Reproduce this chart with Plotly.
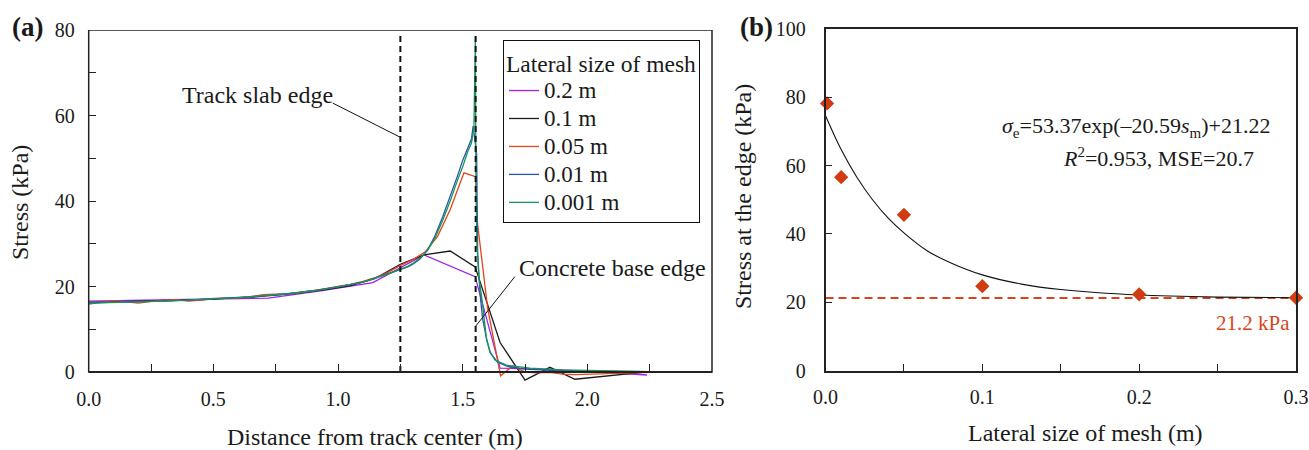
import plotly.graph_objects as go

# ---------------- Panel (a) data ----------------
x_02 = [0.00, 0.10, 0.31, 0.52, 0.72, 0.93, 1.14, 1.345, 1.55, 1.65, 1.85, 2.05, 2.24]
y_02 = [16.6, 16.7, 16.9, 17.2, 17.3, 19.0, 20.9, 27.4, 22.3, 0.9, 0.6, 0.0, -0.7]

x_01 = [0.00, 0.15, 0.25, 0.35, 0.45, 0.55, 0.65, 0.75, 0.85, 0.95, 1.05, 1.15, 1.25, 1.345,
        1.45, 1.55, 1.65, 1.75, 1.85, 1.95, 2.25]
y_01 = [16.3, 16.5, 16.6, 16.8, 16.9, 17.2, 17.5, 18.0, 18.5, 19.3, 20.2, 21.9, 25.2, 27.4,
        28.3, 24.6, 6.9, -1.9, 1.1, -1.7, 0.1]

x_005 = [0.00, 0.05, 0.10, 0.15, 0.20, 0.25, 0.30, 0.35, 0.40, 0.45, 0.50, 0.55, 0.60, 0.65,
         0.70, 0.75, 0.80, 0.85, 0.90, 0.95, 1.00, 1.05, 1.10, 1.15, 1.20, 1.25, 1.30, 1.35,
         1.40, 1.45, 1.505, 1.552, 1.557, 1.60, 1.652, 1.70, 1.75, 1.80, 1.85, 1.90, 1.95, 2.25]
y_005 = [15.9, 16.3, 16.7, 16.4, 16.1, 16.5, 16.8, 16.9, 16.6, 16.8, 17.2, 17.3, 17.3, 17.6,
         18.1, 18.2, 18.3, 18.6, 19.0, 19.5, 20.0, 20.5, 21.2, 22.1, 23.3, 24.9, 26.3, 28.1,
         31.8, 38.0, 46.6, 45.7, 36.0, 15.0, -0.9, 1.4, 0.0, -0.2, -0.1, -0.5, -0.6, -0.1]

x_001 = [0.00, 0.10, 0.20, 0.30, 0.40, 0.50, 0.60, 0.70, 0.80, 0.90, 1.00, 1.10, 1.15, 1.20,
         1.25, 1.28, 1.30, 1.33, 1.36, 1.39, 1.42, 1.45, 1.48, 1.50, 1.52, 1.535, 1.542,
         1.556, 1.560, 1.570, 1.580, 1.595, 1.61, 1.64, 1.68, 1.75, 1.85, 2.00, 2.25]
y_001 = [16.2, 16.3, 16.4, 16.6, 16.8, 17.1, 17.4, 17.8, 18.3, 19.0, 19.9, 21.0, 22.0, 23.0,
         24.0, 24.6, 25.2, 26.5, 28.6, 32.0, 36.3, 41.0, 46.0, 49.5, 52.5, 54.5, 57.5,
         51.0, 28.0, 18.0, 12.5, 8.0, 4.5, 2.3, 1.3, 0.7, 0.4, 0.2, 0.1]

x_0001 = [0.00, 0.10, 0.20, 0.30, 0.40, 0.50, 0.60, 0.70, 0.80, 0.90, 1.00, 1.10, 1.15, 1.20,
          1.25, 1.28, 1.30, 1.33, 1.36, 1.39, 1.42, 1.45, 1.48, 1.50, 1.52, 1.535, 1.545,
          1.551, 1.553, 1.557, 1.565, 1.576, 1.596, 1.61, 1.629, 1.676, 1.77, 1.90, 2.05, 2.25]
y_0001 = [16.1, 16.2, 16.4, 16.6, 16.8, 17.1, 17.4, 17.8, 18.3, 19.0, 19.9, 21.0, 21.9, 22.9,
          24.0, 24.7, 25.4, 26.7, 28.5, 31.5, 35.5, 40.0, 45.0, 48.0, 51.5, 53.5, 57.0,
          78.4, 45.0, 30.0, 22.0, 17.6, 7.5, 4.8, 2.8, 1.6, 0.9, 0.5, 0.3, 0.1]

series_names = ["0.2 m", "0.1 m", "0.05 m", "0.01 m", "0.001 m"]
series_colors = ["#a020f0", "#1a1a1a", "#e2451c", "#2b55a8", "#16975a"]

slab_edge_x = 1.25
base_edge_x = 1.552
edge_line_y = [0.0, 78.8]

# ---------------- Panel (b) data ----------------
mesh_sizes = [0.001, 0.01, 0.05, 0.1, 0.2, 0.3]
edge_stress = [78.2, 56.6, 45.6, 24.7, 22.3, 21.3]
fit_s = [0.0, 0.005, 0.01, 0.02, 0.03, 0.04, 0.05, 0.065, 0.08, 0.1, 0.125, 0.15, 0.2, 0.25, 0.3]
fit_sigma = [74.6, 69.5, 64.7, 56.6, 50.0, 44.6, 40.3, 35.0, 31.5, 28.0, 25.3, 23.7, 22.1, 21.5, 21.3]
limit_stress = 21.2
limit_x = [0.0, 0.3]

FONT = "Liberation Serif"
TXT = "#1a1a1a"
ORANGE = "#d9441c"

W, H = 1309, 450


def px(x):
    return x / W


def py(y):
    return (H - y) / H


fig = go.Figure()

xs = [x_02, x_01, x_005, x_001, x_0001]
ys = [y_02, y_01, y_005, y_001, y_0001]
for name, col, xv, yv in zip(series_names, series_colors, xs, ys):
    fig.add_trace(go.Scatter(
        x=xv, y=yv, mode="lines",
        name='<span style="font-size:23px">%s</span>' % name,
        line=dict(color=col, width=1.3), xaxis="x", yaxis="y"))

for ex in [slab_edge_x, base_edge_x]:
    fig.add_trace(go.Scatter(
        x=[ex, ex], y=edge_line_y, mode="lines", showlegend=False,
        line=dict(color="#111", width=2, dash="6px,4px"), xaxis="x", yaxis="y"))

# Panel (b)
fig.add_trace(go.Scatter(
    x=limit_x, y=[limit_stress, limit_stress], mode="lines", showlegend=False,
    line=dict(color=ORANGE, width=2, dash="8px,5px"), xaxis="x2", yaxis="y2"))
fig.add_trace(go.Scatter(
    x=fit_s, y=fit_sigma, mode="lines", showlegend=False,
    line=dict(color="#111", width=1.1, shape="spline", smoothing=0.6), xaxis="x2", yaxis="y2"))
fig.add_trace(go.Scatter(
    x=mesh_sizes, y=edge_stress, mode="markers", showlegend=False, cliponaxis=False,
    marker=dict(symbol="diamond", size=11, color="#d13b12"), xaxis="x2", yaxis="y2"))

tickfont = dict(family=FONT, size=20, color=TXT)

# left panel: y range extended slightly below zero so that negative dips show below the axis
y_px_per_unit = 342 / 80.0
y_low = -10 / y_px_per_unit

fig.update_layout(
    width=W, height=H,
    margin=dict(l=0, r=0, t=0, b=0, autoexpand=False),
    paper_bgcolor="white", plot_bgcolor="white",
    font=dict(family=FONT, color=TXT),
    xaxis=dict(domain=[px(88.7), px(712)], range=[0, 2.5], anchor="free", position=py(372),
               tickvals=[0, 0.5, 1.0, 1.5, 2.0, 2.5],
               ticktext=["0.0", "0.5", "1.0", "1.5", "2.0", "2.5"],
               ticks="inside", ticklen=7, tickcolor="#222", tickwidth=1.2,
               minor=dict(dtick=0.25, ticks="inside", ticklen=7, tickcolor="#222"),
               showline=True, linecolor="#222", linewidth=1.5, automargin=False,
               showgrid=False, zeroline=False, tickfont=tickfont, ticklabelstandoff=9),
    yaxis=dict(domain=[py(382), py(30)], range=[y_low, 80], anchor="x",
               tickvals=[0, 20, 40, 60, 80],
               ticks="inside", ticklen=7, tickcolor="#222", tickwidth=1.2,
               minor=dict(dtick=10, ticks="inside", ticklen=7, tickcolor="#222"),
               showline=False, showgrid=False, zeroline=False, tickfont=tickfont,
               ticklabelstandoff=13, automargin=False),
    xaxis2=dict(domain=[px(825.5), px(1296)], range=[0, 0.3], anchor="y2",
                tickvals=[0, 0.1, 0.2, 0.3], ticktext=["0.0", "0.1", "0.2", "0.3"],
                ticks="inside", ticklen=7, tickcolor="#222", tickwidth=1.2,
                minor=dict(dtick=0.05, ticks="inside", ticklen=7, tickcolor="#222"),
                showline=True, mirror=True, linecolor="#222", linewidth=1.5,
                showgrid=False, zeroline=False, tickfont=tickfont, ticklabelstandoff=8,
                automargin=False),
    yaxis2=dict(domain=[py(370.5), py(29)], range=[0, 100], anchor="x2",
                tickvals=[0, 20, 40, 60, 80, 100],
                ticks="inside", ticklen=7, tickcolor="#222", tickwidth=1.2,
                showline=True, mirror=True, linecolor="#222", linewidth=1.5,
                showgrid=False, zeroline=False, tickfont=tickfont, ticklabelstandoff=14,
                automargin=False),
    legend=dict(x=px(503), y=py(40), xanchor="left", yanchor="top",
                bgcolor="white", bordercolor="#111", borderwidth=1,
                font=dict(family=FONT, size=19.2, color=TXT),
                title=dict(text="Lateral size of mesh", font=dict(family=FONT, size=23.5, color=TXT)),
                itemwidth=30, tracegroupgap=0),
    showlegend=True,
)

# frame of panel (a) from y=0 to 80
fig.add_shape(type="rect", xref="x domain", yref="y", x0=0, x1=1, y0=0, y1=80,
              line=dict(color="#222", width=1.5), layer="above")

# leader lines
fig.add_shape(type="line", xref="x", yref="y", x0=0.979, y0=62.9, x1=slab_edge_x, y1=54.9,
              line=dict(color="#111", width=1))
fig.add_shape(type="line", xref="x", yref="y", x0=1.709, y0=22.3, x1=base_edge_x, y1=10.7,
              line=dict(color="#111", width=1))


def ann(text, x, y, size, xanchor="center", color=TXT, textangle=0, bold=False):
    fig.add_annotation(text=("<b>%s</b>" % text) if bold else text,
                       xref="paper", yref="paper", x=px(x), y=py(y),
                       xanchor=xanchor, yanchor="middle", showarrow=False,
                       textangle=textangle,
                       font=dict(family=FONT, size=size, color=color))


def it(s, size=22):
    return '<span style="font-style:italic;font-size:%spx">%s</span>' % (size, s)


def sub(s, size=15):
    return '<sub><span style="font-size:%spx">%s</span></sub>' % (size, s)


def sup(s, size=15):
    return '<sup><span style="font-size:%spx">%s</span></sup>' % (size, s)


ann("(a)", 27, 27, 27, bold=True)
ann("(b)", 756, 27, 27, bold=True)
ann("Stress (kPa)", 20, 203, 24, textangle=-90)
ann("Distance from track center (m)", 375, 437, 24)
ann("Stress at the edge (kPa)", 743, 197, 24, textangle=-90)
ann("Lateral size of mesh (m)", 1085, 433, 24)
ann("Track slab edge", 180, 95, 24, xanchor="left")
ann("Concrete base edge", 517, 268, 24, xanchor="left")
ann(it("σ") + sub("e") + "=53.37exp(–20.59" + it("s") + sub("m") + ")+21.22", 1273, 127, 22, xanchor="right")
ann(it("R") + sup("2") + "=0.953, MSE=20.7", 1256, 157, 22, xanchor="right")
ann("21.2 kPa", 1292, 323, 21, xanchor="right", color=ORANGE)

fig.write_html("out.html", config={"displayModeBar": False},
               post_script="document.body.style.margin='0px';")
